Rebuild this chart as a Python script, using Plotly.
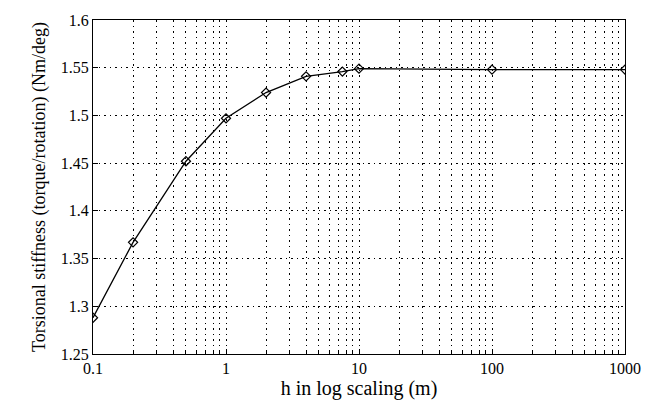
import plotly.graph_objects as go

h_values = [0.1, 0.2, 0.5, 1, 2, 4, 7.5, 10, 100, 1000]
stiffness = [1.288, 1.367, 1.452, 1.497, 1.524, 1.541, 1.546, 1.549, 1.548, 1.548]

x_tick_vals = [0.1, 1, 10, 100, 1000]
x_tick_text = ["0.1", "1", "10", "100", "1000"]
y_tick_vals = [1.25, 1.3, 1.35, 1.4, 1.45, 1.5, 1.55, 1.6]
y_tick_text = ["1.25", "1.3", "1.35", "1.4", "1.45", "1.5", "1.55", "1.6"]
x_minor_vals = [m * 10 ** e for e in range(-1, 3) for m in range(2, 10)]

font_family = "Liberation Serif, Times New Roman, serif"

fig = go.Figure()
fig.add_trace(go.Scatter(
    x=h_values, y=stiffness, mode="lines+markers",
    line=dict(color="black", width=1.3),
    marker=dict(symbol="diamond-open", size=7, color="black", line=dict(width=1.2, color="black")),
    showlegend=False,
))

grid_dash = "1.5px,4px"
fig.update_layout(
    width=653, height=405,
    margin=dict(l=93, r=21, t=14, b=48),
    paper_bgcolor="white", plot_bgcolor="white",
    font=dict(family=font_family, size=16, color="black"),
    xaxis=dict(
        type="log", range=[-1, 3],
        tickmode="array", tickvals=x_tick_vals, ticktext=x_tick_text,
        ticks="inside", ticklen=5, tickcolor="black",
        showline=True, linecolor="black", linewidth=1.3, mirror=True,
        showgrid=True, gridcolor="black", gridwidth=1, griddash=grid_dash,
        minor=dict(tickmode="array", tickvals=x_minor_vals, showgrid=True,
                   gridcolor="black", gridwidth=1, griddash=grid_dash,
                   ticks="inside", ticklen=3, tickcolor="black"),
        title=dict(text="h in log scaling (m)", font=dict(size=20), standoff=2),
        tickfont=dict(size=16),
        zeroline=False,
    ),
    yaxis=dict(
        range=[1.25, 1.6],
        tickmode="array", tickvals=y_tick_vals, ticktext=y_tick_text,
        ticks="inside", ticklen=5, tickcolor="black",
        showline=True, linecolor="black", linewidth=1.3, mirror=True,
        showgrid=True, gridcolor="black", gridwidth=1, griddash=grid_dash,
        title=dict(text="Torsional stiffness (torque/rotation) (Nm/deg)", font=dict(size=18), standoff=10),
        tickfont=dict(size=16),
        zeroline=False,
    ),
)

fig.write_html(
    "out.html",
    config={"displayModeBar": False},
    post_script="document.body.style.margin='0px';document.body.style.overflow='hidden';",
)
